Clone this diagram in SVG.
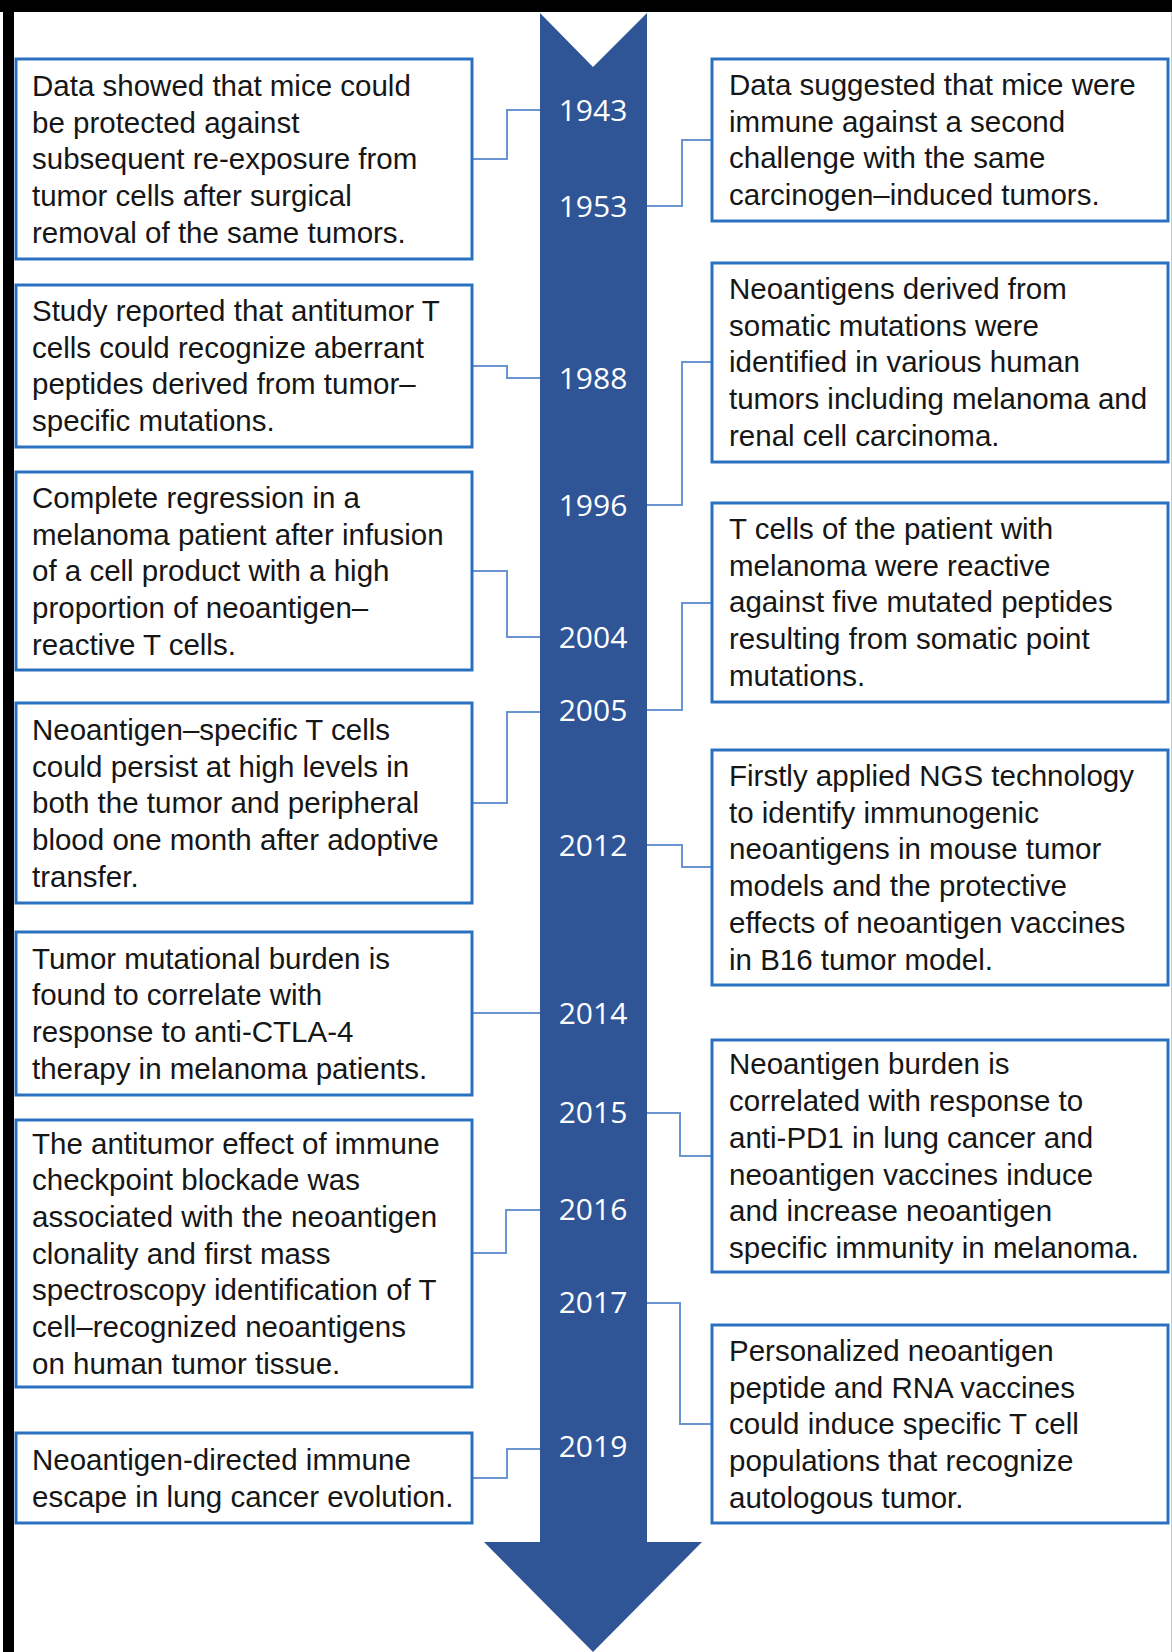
<svg xmlns="http://www.w3.org/2000/svg" width="1172" height="1652" viewBox="0 0 1172 1652">
<style>
.box{fill:#fff;stroke:#2a72c0;stroke-width:3}
.t{font-family:"Liberation Sans",Arial,sans-serif;font-size:29.5px;fill:#161616}
.yr{font-family:"Open Sans","Noto Sans",sans-serif;font-size:30px;fill:#fff;text-anchor:middle}
.con{fill:none;stroke:#6a95d0;stroke-width:2}
</style>
<rect x="0" y="0" width="1172" height="1652" fill="#fff"/>
<rect x="0" y="0" width="1172" height="12" fill="#000"/>
<rect x="3" y="0" width="11" height="1652" fill="#000"/>
<line x1="1171.5" y1="12" x2="1171.5" y2="1652" stroke="#c8c8c8" stroke-width="1"/>

<g id="timeline">
<polygon points="540,13 593,67 647,13 647,1542 702,1542 593,1652 484,1542 540,1542" fill="#2f5597"/>
<text class="yr" x="593" y="121">1943</text>
<text class="yr" x="593" y="217">1953</text>
<text class="yr" x="593" y="389">1988</text>
<text class="yr" x="593" y="516">1996</text>
<text class="yr" x="593" y="648">2004</text>
<text class="yr" x="593" y="721">2005</text>
<text class="yr" x="593" y="856">2012</text>
<text class="yr" x="593" y="1024">2014</text>
<text class="yr" x="593" y="1123">2015</text>
<text class="yr" x="593" y="1220">2016</text>
<text class="yr" x="593" y="1313">2017</text>
<text class="yr" x="593" y="1457">2019</text>
</g>

<g id="connectors">
<polyline class="con" points="472,159 507,159 507,110 540,110"/>
<polyline class="con" points="647,206 682,206 682,140 712,140"/>
<polyline class="con" points="472,366 507,366 507,378 540,378"/>
<polyline class="con" points="647,505 682,505 682,362 712,362"/>
<polyline class="con" points="472,571 507,571 507,637 540,637"/>
<polyline class="con" points="647,710 682,710 682,603 712,603"/>
<polyline class="con" points="472,803 507,803 507,712 540,712"/>
<polyline class="con" points="647,845 682,845 682,867 712,867"/>
<polyline class="con" points="472,1013 540,1013"/>
<polyline class="con" points="647,1113 680,1113 680,1156 712,1156"/>
<polyline class="con" points="472,1253 506,1253 506,1210 540,1210"/>
<polyline class="con" points="647,1303 680,1303 680,1424 712,1424"/>
<polyline class="con" points="472,1478 507,1478 507,1449 540,1449"/>
</g>

<g id="n1943">
<rect class="box" x="16" y="59" width="456" height="200"/>
<text class="t" x="32" y="96"><tspan x="32">Data showed that mice could</tspan><tspan x="32" dy="36.7">be protected against</tspan><tspan x="32" dy="36.7">subsequent re-exposure from</tspan><tspan x="32" dy="36.7">tumor cells after surgical</tspan><tspan x="32" dy="36.7">removal of the same tumors.</tspan></text>
</g>
<g id="n1953">
<rect class="box" x="712" y="59" width="456" height="162"/>
<text class="t" x="729" y="95"><tspan x="729">Data suggested that mice were</tspan><tspan x="729" dy="36.7">immune against a second</tspan><tspan x="729" dy="36.7">challenge with the same</tspan><tspan x="729" dy="36.7">carcinogen–induced tumors.</tspan></text>
</g>
<g id="n1988">
<rect class="box" x="16" y="285" width="456" height="162"/>
<text class="t" x="32" y="321"><tspan x="32">Study reported that antitumor T</tspan><tspan x="32" dy="36.7">cells could recognize aberrant</tspan><tspan x="32" dy="36.7">peptides derived from tumor–</tspan><tspan x="32" dy="36.7">specific mutations.</tspan></text>
</g>
<g id="n1996">
<rect class="box" x="712" y="263" width="456" height="199"/>
<text class="t" x="729" y="299"><tspan x="729">Neoantigens derived from</tspan><tspan x="729" dy="36.7">somatic mutations were</tspan><tspan x="729" dy="36.7">identified in various human</tspan><tspan x="729" dy="36.7">tumors including melanoma and</tspan><tspan x="729" dy="36.7">renal cell carcinoma.</tspan></text>
</g>
<g id="n2004">
<rect class="box" x="16" y="472" width="456" height="198"/>
<text class="t" x="32" y="508"><tspan x="32">Complete regression in a</tspan><tspan x="32" dy="36.7">melanoma patient after infusion</tspan><tspan x="32" dy="36.7">of a cell product with a high</tspan><tspan x="32" dy="36.7">proportion of neoantigen–</tspan><tspan x="32" dy="36.7">reactive T cells.</tspan></text>
</g>
<g id="n2005a">
<rect class="box" x="712" y="503" width="456" height="199"/>
<text class="t" x="729" y="539"><tspan x="729">T cells of the patient with</tspan><tspan x="729" dy="36.7">melanoma were reactive</tspan><tspan x="729" dy="36.7">against five mutated peptides</tspan><tspan x="729" dy="36.7">resulting from somatic point</tspan><tspan x="729" dy="36.7">mutations.</tspan></text>
</g>
<g id="n2005b">
<rect class="box" x="16" y="703" width="456" height="200"/>
<text class="t" x="32" y="740"><tspan x="32">Neoantigen–specific T cells</tspan><tspan x="32" dy="36.7">could persist at high levels in</tspan><tspan x="32" dy="36.7">both the tumor and peripheral</tspan><tspan x="32" dy="36.7">blood one month after adoptive</tspan><tspan x="32" dy="36.7">transfer.</tspan></text>
</g>
<g id="n2012">
<rect class="box" x="712" y="750" width="456" height="235"/>
<text class="t" x="729" y="786"><tspan x="729">Firstly applied NGS technology</tspan><tspan x="729" dy="36.7">to identify immunogenic</tspan><tspan x="729" dy="36.7">neoantigens in mouse tumor</tspan><tspan x="729" dy="36.7">models and the protective</tspan><tspan x="729" dy="36.7">effects of neoantigen vaccines</tspan><tspan x="729" dy="36.7">in B16 tumor model.</tspan></text>
</g>
<g id="n2014">
<rect class="box" x="16" y="932" width="456" height="163"/>
<text class="t" x="32" y="968.6"><tspan x="32">Tumor mutational burden is</tspan><tspan x="32" dy="36.7">found to correlate with</tspan><tspan x="32" dy="36.7">response to anti-CTLA-4</tspan><tspan x="32" dy="36.7">therapy in melanoma patients.</tspan></text>
</g>
<g id="n2015">
<rect class="box" x="712" y="1040" width="456" height="232"/>
<text class="t" x="729" y="1074.4"><tspan x="729">Neoantigen burden is</tspan><tspan x="729" dy="36.7">correlated with response to</tspan><tspan x="729" dy="36.7">anti-PD1 in lung cancer and</tspan><tspan x="729" dy="36.7">neoantigen vaccines induce</tspan><tspan x="729" dy="36.7">and increase neoantigen</tspan><tspan x="729" dy="36.7">specific immunity in melanoma.</tspan></text>
</g>
<g id="n2016">
<rect class="box" x="16" y="1120" width="456" height="267"/>
<text class="t" x="32" y="1153.6"><tspan x="32">The antitumor effect of immune</tspan><tspan x="32" dy="36.7">checkpoint blockade was</tspan><tspan x="32" dy="36.7">associated with the neoantigen</tspan><tspan x="32" dy="36.7">clonality and first mass</tspan><tspan x="32" dy="36.7">spectroscopy identification of T</tspan><tspan x="32" dy="36.7">cell–recognized neoantigens</tspan><tspan x="32" dy="36.7">on human tumor tissue.</tspan></text>
</g>
<g id="n2017">
<rect class="box" x="712" y="1325" width="456" height="198"/>
<text class="t" x="729" y="1360.8"><tspan x="729">Personalized neoantigen</tspan><tspan x="729" dy="36.7">peptide and RNA vaccines</tspan><tspan x="729" dy="36.7">could induce specific T cell</tspan><tspan x="729" dy="36.7">populations that recognize</tspan><tspan x="729" dy="36.7">autologous tumor.</tspan></text>
</g>
<g id="n2019">
<rect class="box" x="16" y="1433" width="456" height="90"/>
<text class="t" x="32" y="1469.8"><tspan x="32">Neoantigen-directed immune</tspan><tspan x="32" dy="36.7">escape in lung cancer evolution.</tspan></text>
</g>
</svg>
